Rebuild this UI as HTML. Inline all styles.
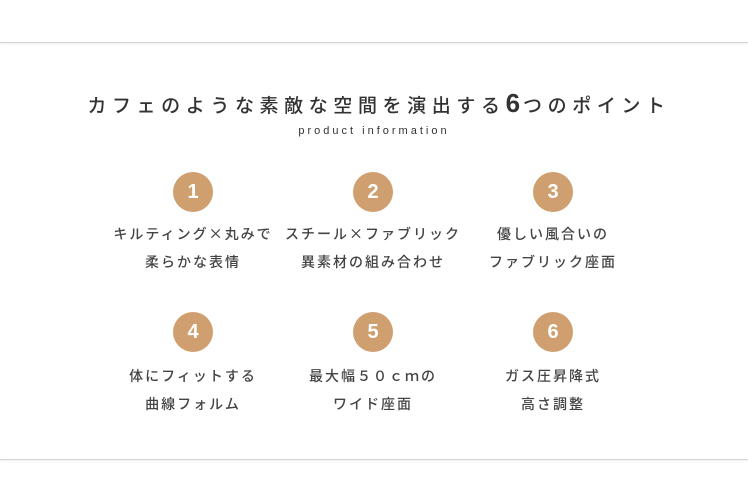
<!DOCTYPE html>
<html><head><meta charset="utf-8"><style>
body{margin:0;width:748px;height:500px;background:#fff;position:relative;overflow:hidden;font-family:"Liberation Sans","Noto Sans CJK JP",sans-serif;color:#3a3a3a}
.line{position:absolute;left:0;width:748px;height:1px;background:#d4d4d4;box-shadow:0 1px 2px rgba(0,0,0,.12)}
.t{position:absolute;left:0;width:748px;text-align:center;white-space:nowrap}
.c{position:absolute;width:40px;height:40px;border-radius:50%;background:#cf9f6f;color:#fff;font-weight:bold;font-size:20px;line-height:40px;text-align:center}
.i{position:absolute;width:200px;text-align:center;font-size:14px;font-weight:500;letter-spacing:2px;line-height:28px;color:#444;white-space:nowrap}
.x{font-family:"Noto Sans CJK JP",sans-serif}
</style></head><body>
<div class="line" style="top:42px"></div>
<div class="line" style="top:459px"></div>
<div class="t" style="top:88px;font-size:19px;letter-spacing:5.6px;color:#333;font-weight:500;padding-left:5px">カフェのような素敵な空間を演出する<b style="font-size:26px;letter-spacing:3px">6</b>つのポイント</div>
<div class="t" style="top:125px;font-size:11px;letter-spacing:3px;color:#333">product information</div>

<div class="c" style="left:173px;top:172px">1</div>
<div class="c" style="left:353px;top:172px">2</div>
<div class="c" style="left:533px;top:172px">3</div>
<div class="c" style="left:173px;top:312px">4</div>
<div class="c" style="left:353px;top:312px">5</div>
<div class="c" style="left:533px;top:312px">6</div>

<div class="i" style="left:93px;top:220px">キルティング<span class="x">×</span>丸みで<br>柔らかな表情</div>
<div class="i" style="left:273px;top:220px">スチール<span class="x">×</span>ファブリック<br>異素材の組み合わせ</div>
<div class="i" style="left:453px;top:220px">優しい風合いの<br>ファブリック座面</div>
<div class="i" style="left:93px;top:362px">体にフィットする<br>曲線フォルム</div>
<div class="i" style="left:273px;top:362px">最大幅５０ｃｍの<br>ワイド座面</div>
<div class="i" style="left:453px;top:362px">ガス圧昇降式<br>高さ調整</div>
</body></html>
